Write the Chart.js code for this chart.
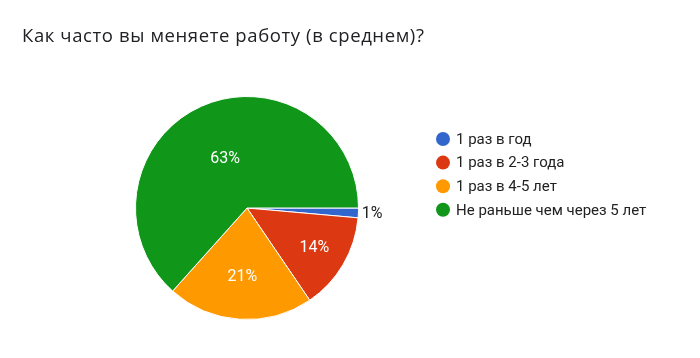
<!DOCTYPE html>
<html><head><meta charset="utf-8">
<script src="https://cdn.jsdelivr.net/npm/chart.js@4"></script>
<style>html,body{margin:0;padding:0;background:#fff}#wrap{width:700px;height:358px;position:relative}</style>
</head><body><div id="wrap"><canvas id="c" width="700" height="358"></canvas></div>
<script>
const title = "Как часто вы меняете работу (в среднем)?";
const categories = ["1 раз в год", "1 раз в 2-3 года", "1 раз в 4-5 лет", "Не раньше чем через 5 лет"];
const counts = [1, 10, 15, 45];
const percentLabels = ["1%", "14%", "21%", "63%"];
const colors = ["#3366cc", "#dc3912", "#ff9900", "#109618"];

const labelRadius = [1.03, 0.70, 0.62, 0.48];

const extras = {
  id: 'extras',
  afterDraw(chart) {
    const ctx = chart.ctx;
    ctx.save();
    // title
    ctx.fillStyle = '#202124';
    ctx.font = '18.5px "Open Sans"';
    ctx.letterSpacing = '0.6px';
    ctx.textBaseline = 'alphabetic';
    ctx.textAlign = 'left';
    ctx.fillText(title, 22, 42);
    ctx.letterSpacing = '0px';
    // slice labels
    const meta = chart.getDatasetMeta(0);
    meta.data.forEach((arc, i) => {
      const p = arc.getProps(['x','y','startAngle','endAngle','outerRadius'], true);
      const mid = (p.startAngle + p.endAngle) / 2;
      const r = p.outerRadius * labelRadius[i];
      const x = p.x + Math.cos(mid) * r;
      const y = p.y + Math.sin(mid) * r;
      ctx.font = '16px Roboto';
      ctx.textBaseline = 'middle';
      if (labelRadius[i] > 1) {
        ctx.fillStyle = '#222';
        ctx.textAlign = 'left';
        ctx.fillText(percentLabels[i], x, y + 1);
      } else {
        ctx.fillStyle = '#fff';
        ctx.textAlign = 'center';
        ctx.fillText(percentLabels[i], x, y);
      }
    });
    // legend
    const lx = 443, ly0 = 139, dy = 23.6;
    categories.forEach((c, i) => {
      const y = ly0 + i * dy;
      ctx.beginPath();
      ctx.fillStyle = colors[i];
      ctx.arc(lx, y, 7, 0, Math.PI * 2);
      ctx.fill();
      ctx.fillStyle = '#222';
      ctx.font = '15px Roboto';
      ctx.textAlign = 'left';
      ctx.textBaseline = 'middle';
      ctx.fillText(c, 456, y + 1);
    });
    ctx.restore();
  }
};

new Chart(document.getElementById('c'), {
  type: 'pie',
  data: {
    labels: categories,
    datasets: [{ data: counts, backgroundColor: colors, borderColor: '#fff', borderWidth: 1 }]
  },
  options: {
    responsive: false,
    animation: false,
    rotation: 90,
    layout: { padding: { left: 135, right: 341, top: 96, bottom: 38 } },
    plugins: { legend: { display: false }, tooltip: { enabled: false }, title: { display: false } }
  },
  plugins: [extras]
});
</script>
</body></html>
